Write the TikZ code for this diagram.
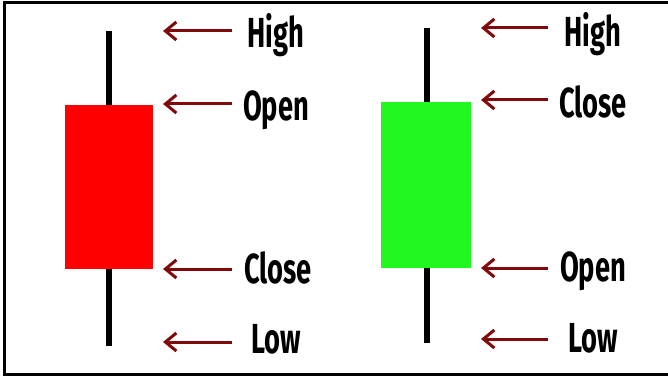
\documentclass[tikz,border=0pt]{standalone}
\usepackage{fontspec}
\newfontfamily\lab[FakeStretch=0.65]{Fira Sans}
\usetikzlibrary{arrows.meta}
\definecolor{arrowred}{RGB}{128,10,10}
\definecolor{bodyred}{RGB}{255,0,0}
\definecolor{bodygreen}{RGB}{32,248,32}
\tikzset{
  wick/.style={line width=6pt},
  body/.style={draw=none,inner sep=0pt,minimum width=88pt},
  lbl/.style={font=\lab\bfseries\fontsize{42}{42}\selectfont,inner sep=0pt,anchor=base},
  pointer/.style={draw=arrowred,line width=3pt,-{Straight Barb[length=11pt,width=18pt,line width=3pt]}}
}
\begin{document}
\begin{tikzpicture}[x=1pt,y=-1pt]
\useasboundingbox (0,0) rectangle (668,379);
\draw[line width=3pt] (700,2.5) -- (4,2.5) -- (4,374.5) -- (700,374.5);
% left (bearish) candle
\coordinate (lwt) at (109,31);
\coordinate (lwb) at (109,346);
\draw[wick] (lwt) -- (lwb);
\node[body,fill=bodyred,minimum height=164pt] (lbody) at (109,187) {};
% right (bullish) candle
\coordinate (rwt) at (426.5,28);
\coordinate (rwb) at (426.5,343);
\draw[wick] (rwt) -- (rwb);
\node[body,fill=bodygreen,minimum width=90pt,minimum height=166pt] (rbody) at (426,185) {};
% left labels
\node[lbl] (lhigh) at (276,48) {High};
\node[lbl] (lopen) at (276,121) {Open};
\node[lbl] (lclose) at (278,283) {Close};
\node[lbl] (llow) at (276,353) {Low};
\coordinate (la1s) at (232,31);  \coordinate (la1e) at (163,31);
\coordinate (la2s) at (232,104); \coordinate (la2e) at (163,104);
\coordinate (la3s) at (232,269); \coordinate (la3e) at (163,269);
\coordinate (la4s) at (232,342); \coordinate (la4e) at (163,342);
\draw[pointer] (la1s) -- (la1e);
\draw[pointer] (la2s) -- (la2e);
\draw[pointer] (la3s) -- (la3e);
\draw[pointer] (la4s) -- (la4e);
% right labels
\node[lbl] (rhigh) at (593,47) {High};
\node[lbl] (rclose) at (593,118) {Close};
\node[lbl] (ropen) at (593,281) {Open};
\node[lbl] (rlow) at (593,352) {Low};
\coordinate (ra1s) at (548,28);  \coordinate (ra1e) at (481,28);
\coordinate (ra2s) at (548,100); \coordinate (ra2e) at (481,100);
\coordinate (ra3s) at (548,268); \coordinate (ra3e) at (481,268);
\coordinate (ra4s) at (548,339); \coordinate (ra4e) at (481,339);
\draw[pointer] (ra1s) -- (ra1e);
\draw[pointer] (ra2s) -- (ra2e);
\draw[pointer] (ra3s) -- (ra3e);
\draw[pointer] (ra4s) -- (ra4e);
\end{tikzpicture}
\end{document}
